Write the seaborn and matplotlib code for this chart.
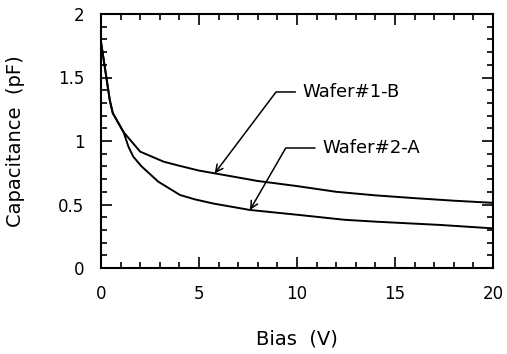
import matplotlib
matplotlib.use("Agg")
import matplotlib.pyplot as plt
import seaborn as sns
import pandas as pd
from matplotlib.ticker import MultipleLocator, FuncFormatter

bias_1b = [0, 0.45, 0.6, 1.15, 2, 3.2, 4, 5, 6, 8, 10, 12, 14, 16, 18, 20]
cap_1b = [1.78, 1.32, 1.22, 1.07, 0.916, 0.837, 0.805, 0.767, 0.74, 0.685, 0.645, 0.60, 0.572, 0.55, 0.53, 0.513]
bias_2a = [0, 0.45, 0.6, 1.15, 1.4, 1.65, 2.07, 2.92, 4.03, 4.8, 5.75, 7.6, 10.15, 12.4, 14, 17.3, 20]
cap_2a = [1.78, 1.32, 1.22, 1.07, 0.955, 0.876, 0.80, 0.68, 0.575, 0.54, 0.507, 0.457, 0.417, 0.38, 0.365, 0.339, 0.312]
labels = ["Wafer#1-B", "Wafer#2-A"]

df = pd.concat([
    pd.DataFrame({"Bias": bias_1b, "Cap": cap_1b, "Wafer": labels[0]}),
    pd.DataFrame({"Bias": bias_2a, "Cap": cap_2a, "Wafer": labels[1]}),
])

sns.set_style("ticks")
plt.rcParams["font.family"] = ["DejaVu Sans"]
plt.rcParams["text.color"] = "black"
plt.rcParams["axes.labelcolor"] = "black"
plt.rcParams["xtick.color"] = "black"
plt.rcParams["ytick.color"] = "black"

fig = plt.figure(figsize=(5.07, 3.54), dpi=100)
ax = fig.add_axes([101/507, 1 - 268/354, (493-101)/507, (268-14)/354])
sns.lineplot(data=df, x="Bias", y="Cap", units="Wafer", estimator=None,
             color="black", linewidth=1.4, ax=ax, legend=False)

ax.set_xlim(0, 20)
ax.set_ylim(0, 2)
ax.xaxis.set_major_locator(MultipleLocator(5))
ax.xaxis.set_minor_locator(MultipleLocator(1))
ax.yaxis.set_major_locator(MultipleLocator(0.5))
ax.yaxis.set_minor_locator(MultipleLocator(0.1))
ax.xaxis.set_major_formatter(FuncFormatter(lambda v, p: f"{v:g}"))
ax.yaxis.set_major_formatter(FuncFormatter(lambda v, p: f"{v:g}"))
ax.tick_params(which="both", direction="in", top=True, right=True, width=1.2,
               colors="black", labelcolor="black", labelsize=12)
ax.tick_params(which="major", length=8, pad=12)
ax.tick_params(which="minor", length=4)
for s in ax.spines.values():
    s.set_linewidth(1.5)
    s.set_color("black")

ax.set_xlabel("Bias  (V)", fontsize=14, labelpad=19, color="black")
ax.set_ylabel("Capacitance  (pF)", fontsize=14, labelpad=24, color="black")

ax.annotate(labels[0], xy=(5.8, 0.745), xytext=(10.3, 1.386), fontsize=13, va="center", ha="left",
            color="black",
            arrowprops=dict(arrowstyle="->", color="black", lw=1.1,
                            connectionstyle="angle,angleA=0,angleB=53,rad=0",
                            shrinkA=3, shrinkB=0))
ax.annotate(labels[1], xy=(7.6, 0.457), xytext=(11.3, 0.945), fontsize=13, va="center", ha="left",
            color="black",
            arrowprops=dict(arrowstyle="->", color="black", lw=1.1,
                            connectionstyle="angle,angleA=0,angleB=60,rad=0",
                            shrinkA=3, shrinkB=0))

fig.savefig("out.png", dpi=100)
